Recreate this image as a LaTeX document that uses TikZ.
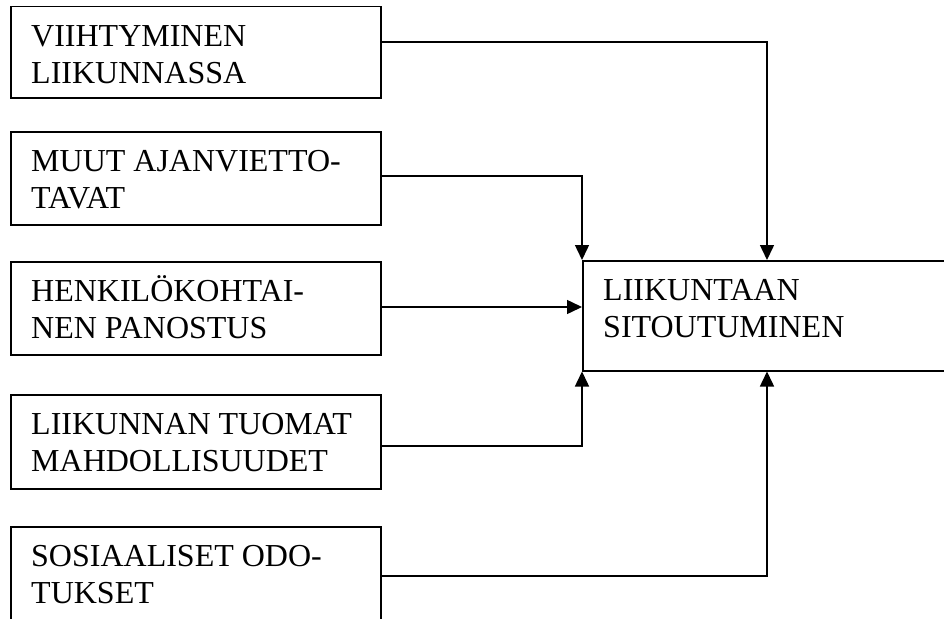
\documentclass[tikz,border=0pt]{standalone}
\usepackage{fontspec}
\setmainfont{Liberation Serif}
\usetikzlibrary{arrows.meta,calc}

\tikzset{
  box/.style={draw, line width=1.5pt, anchor=north west, inner sep=0pt,
              minimum width=370pt},
  goal/.style={draw, line width=1.5pt, anchor=north west, inner sep=0pt,
               minimum width=400pt, minimum height=110pt},
  lbl/.style={anchor=base west, inner sep=0pt, align=left,
              font=\fontsize{32pt}{37pt}\selectfont},
  link/.style={line width=1.5pt, -{Triangle[length=15pt,width=14pt]}},
}

\begin{document}
\begin{tikzpicture}[x=1pt,y=-1pt]
  \useasboundingbox (0,0) rectangle (944,618);
  \clip (0,0) rectangle (944,618);
  \fill[white] (0,0) rectangle (944,618);

  % factor boxes on the left
  \node[box, minimum height=91pt]  (b1) at (10,6)   {};
  \node[box, minimum height=93pt]  (b2) at (10,131) {};
  \node[box, minimum height=93pt]  (b3) at (10,261) {};
  \node[box, minimum height=94pt]  (b4) at (10,394) {};
  \node[box, minimum height=120pt] (b5) at (10,526) {};

  % outcome box
  \node[goal] (tgt) at (582,260) {};

  % box texts (anchored at the baseline of the second line)
  \node[lbl] (t1) at ($(b1.north west)+(21,77)$) {VIIHTYMINEN\\LIIKUNNASSA};
  \node[lbl] (t2) at ($(b2.north west)+(21,77)$) {MUUT AJANVIETTO-\\TAVAT};
  \node[lbl] (t3) at ($(b3.north west)+(21,77)$) {HENKILÖKOHTAI-\\NEN PANOSTUS};
  \node[lbl] (t4) at ($(b4.north west)+(21,77)$) {LIIKUNNAN TUOMAT\\MAHDOLLISUUDET};
  \node[lbl] (t5) at ($(b5.north west)+(21,77)$) {SOSIAALISET ODO-\\TUKSET};
  \node[lbl] (tt) at ($(tgt.north west)+(21,77)$) {LIIKUNTAAN\\SITOUTUMINEN};

  % connector start and end points
  \coordinate (o1) at ($(b1.north east)+(0,36)$);
  \coordinate (o2) at ($(b2.north east)+(0,45)$);
  \coordinate (o3) at ($(b3.north east)+(0,46)$);
  \coordinate (o4) at ($(b4.north east)+(0,52)$);
  \coordinate (o5) at ($(b5.north east)+(0,50)$);
  \coordinate (in1) at ($(tgt.north west)+(185,0)$);
  \coordinate (in5) at ($(tgt.south west)+(185,0)$);

  % connectors
  \draw[link] (o1) -| (in1);
  \draw[link] (o2) -| (tgt.north west);
  \draw[link] (o3) -- (tgt.west |- o3);
  \draw[link] (o4) -| (tgt.south west);
  \draw[link] (o5) -| (in5);
\end{tikzpicture}
\end{document}
